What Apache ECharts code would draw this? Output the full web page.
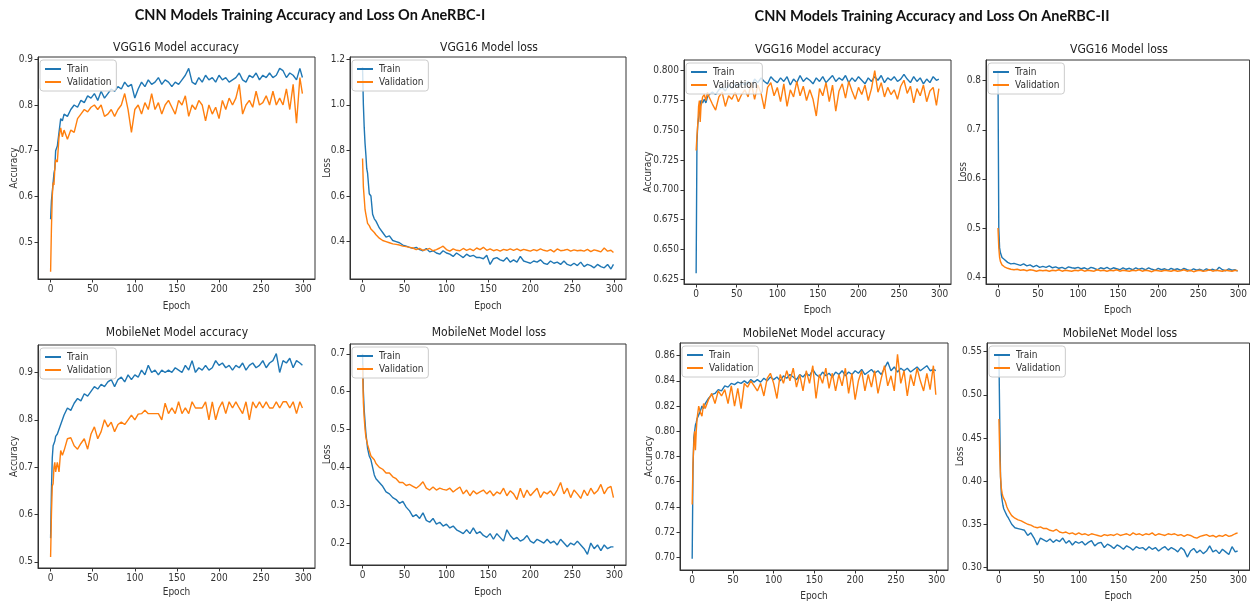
<!DOCTYPE html>
<html>
<head>
<meta charset="utf-8">
<script src="https://cdn.jsdelivr.net/npm/echarts@6/dist/echarts.min.js"></script>
<style>
html,body{margin:0;padding:0;background:#fff;}
#chart{width:1250px;height:602px;}
</style>
</head>
<body>
<div id="chart"></div>
<script>
// ---------------- DATA ----------------
const epochs = [0,1,2,3,4,5,6,8,10,12,14,16,
  20,24,28,32,36,40,44,48,52,56,
  60,64,68,72,76,80,84,88,92,96,
  100,104,108,112,116,120,124,128,132,136,
  140,144,148,152,156,160,164,168,172,176,
  180,184,188,192,196,200,204,208,212,216,
  220,224,228,232,236,240,244,248,252,256,
  260,264,268,272,276,280,284,288,292,296,
  299];
const xTicks = [0,50,100,150,200,250,300];

const mainTitles = ["CNN Models Training Accuracy and Loss On AneRBC-I", "CNN Models Training Accuracy and Loss On AneRBC-II"];
const panelTitles = ["VGG16 Model accuracy","VGG16 Model loss","VGG16 Model accuracy","VGG16 Model loss",
  "MobileNet Model accuracy","MobileNet Model loss","MobileNet Model accuracy","MobileNet Model loss"];
const yNames = ["Accuracy","Loss","Accuracy","Loss","Accuracy","Loss","Accuracy","Loss"];
const seriesNames = ["Train","Validation"];

const yTicks1 = [0.5,0.6,0.7,0.8,0.9];
const yTicks2 = [0.4,0.6,0.8,1.0,1.2];
const yTicks3 = [0.625,0.650,0.675,0.700,0.725,0.750,0.775,0.800];
const yTicks4 = [0.4,0.5,0.6,0.7,0.8];
const yTicks5 = [0.5,0.6,0.7,0.8,0.9];
const yTicks6 = [0.2,0.3,0.4,0.5,0.6,0.7];
const yTicks7 = [0.70,0.72,0.74,0.76,0.78,0.80,0.82,0.84,0.86];
const yTicks8 = [0.30,0.35,0.40,0.45,0.50,0.55];

// AneRBC-I VGG16 accuracy
const vggAccI_train = [0.550,0.590,0.610,0.630,0.650,0.660,0.700,0.710,0.740,0.770,0.765,0.780,
  0.775,0.790,0.800,0.795,0.810,0.805,0.820,0.815,0.825,0.810,
  0.830,0.815,0.825,0.835,0.830,0.840,0.835,0.850,0.840,0.845,
  0.815,0.835,0.850,0.840,0.855,0.845,0.850,0.860,0.845,0.855,
  0.850,0.840,0.850,0.845,0.855,0.865,0.880,0.850,0.845,0.860,
  0.850,0.865,0.855,0.860,0.850,0.865,0.855,0.860,0.850,0.855,
  0.860,0.870,0.855,0.850,0.865,0.860,0.870,0.855,0.865,0.860,
  0.870,0.860,0.865,0.880,0.875,0.860,0.870,0.865,0.855,0.880,
  0.860];
const vggAccI_val = [0.435,0.530,0.600,0.630,0.625,0.660,0.680,0.675,0.730,0.750,0.730,0.745,
  0.725,0.745,0.740,0.770,0.780,0.790,0.785,0.795,0.800,0.790,
  0.800,0.775,0.780,0.790,0.775,0.790,0.800,0.825,0.790,0.740,
  0.790,0.800,0.780,0.805,0.790,0.825,0.790,0.805,0.780,0.800,
  0.810,0.795,0.780,0.810,0.800,0.820,0.775,0.800,0.790,0.810,
  0.800,0.765,0.800,0.780,0.795,0.770,0.810,0.790,0.815,0.800,
  0.815,0.845,0.780,0.800,0.810,0.795,0.830,0.800,0.805,0.820,
  0.800,0.830,0.800,0.815,0.800,0.835,0.790,0.845,0.760,0.860,
  0.825];
// AneRBC-I VGG16 loss
const vggLossI_train = [1.165,1.000,0.900,0.830,0.780,0.720,0.700,0.610,0.600,0.520,0.500,0.490,
  0.460,0.440,0.420,0.425,0.405,0.400,0.395,0.385,0.380,0.375,
  0.370,0.375,0.365,0.360,0.370,0.355,0.360,0.350,0.345,0.360,
  0.350,0.345,0.335,0.350,0.340,0.330,0.345,0.335,0.340,0.330,
  0.330,0.325,0.340,0.300,0.325,0.330,0.320,0.315,0.330,0.310,
  0.320,0.310,0.335,0.315,0.310,0.305,0.315,0.310,0.320,0.305,
  0.300,0.315,0.305,0.310,0.300,0.315,0.300,0.295,0.305,0.295,
  0.310,0.290,0.300,0.295,0.285,0.300,0.290,0.285,0.300,0.280,
  0.300];
const vggLossI_val = [0.765,0.640,0.590,0.540,0.520,0.500,0.480,0.470,0.455,0.450,0.440,0.430,
  0.415,0.405,0.400,0.395,0.390,0.388,0.385,0.380,0.378,0.375,
  0.372,0.365,0.370,0.362,0.365,0.370,0.360,0.365,0.372,0.380,
  0.365,0.358,0.368,0.362,0.360,0.370,0.362,0.368,0.360,0.372,
  0.365,0.375,0.362,0.368,0.360,0.365,0.358,0.366,0.362,0.368,
  0.362,0.368,0.360,0.366,0.362,0.358,0.365,0.360,0.368,0.362,
  0.358,0.365,0.355,0.368,0.360,0.362,0.366,0.358,0.364,0.360,
  0.362,0.358,0.366,0.356,0.364,0.360,0.355,0.372,0.358,0.362,
  0.352];
// AneRBC-II VGG16 accuracy
const vggAccII_train = [0.630,0.740,0.755,0.760,0.765,0.772,0.775,0.773,0.776,0.773,0.778,0.780,
  0.782,0.780,0.784,0.786,0.783,0.788,0.785,0.789,0.787,0.790,
  0.788,0.791,0.786,0.793,0.790,0.794,0.791,0.789,0.795,0.792,
  0.790,0.794,0.791,0.795,0.788,0.793,0.790,0.796,0.791,0.794,
  0.792,0.789,0.794,0.791,0.795,0.790,0.793,0.796,0.791,0.794,
  0.792,0.796,0.790,0.794,0.791,0.795,0.792,0.789,0.794,0.791,
  0.795,0.792,0.796,0.790,0.794,0.792,0.795,0.791,0.793,0.797,
  0.793,0.790,0.795,0.791,0.794,0.789,0.793,0.790,0.795,0.792,
  0.793];
const vggAccII_val = [0.733,0.745,0.755,0.770,0.775,0.757,0.770,0.778,0.780,0.775,0.782,0.778,
  0.772,0.767,0.778,0.782,0.770,0.779,0.776,0.782,0.774,0.780,
  0.784,0.778,0.790,0.776,0.788,0.781,0.768,0.786,0.790,0.779,
  0.786,0.774,0.789,0.770,0.784,0.778,0.791,0.779,0.787,0.775,
  0.784,0.776,0.762,0.785,0.779,0.790,0.774,0.788,0.766,0.783,
  0.789,0.777,0.791,0.783,0.776,0.786,0.780,0.788,0.775,0.785,
  0.800,0.782,0.790,0.778,0.786,0.780,0.784,0.776,0.787,0.792,
  0.781,0.787,0.773,0.785,0.779,0.788,0.774,0.783,0.786,0.771,
  0.785];
// AneRBC-II VGG16 loss
const vggLossII_train = [0.820,0.500,0.460,0.450,0.445,0.440,0.438,0.436,0.434,0.430,0.428,0.427,
  0.428,0.426,0.424,0.427,0.423,0.425,0.421,0.424,0.420,0.422,
  0.420,0.423,0.419,0.421,0.418,0.420,0.417,0.421,0.419,0.418,
  0.420,0.417,0.419,0.416,0.420,0.418,0.415,0.419,0.417,0.420,
  0.416,0.419,0.417,0.415,0.419,0.416,0.418,0.415,0.419,0.416,
  0.418,0.415,0.419,0.416,0.414,0.418,0.415,0.417,0.414,0.418,
  0.415,0.417,0.414,0.418,0.415,0.413,0.417,0.414,0.416,0.413,
  0.417,0.414,0.416,0.413,0.420,0.415,0.413,0.417,0.414,0.415,
  0.412];
const vggLossII_val = [0.500,0.460,0.440,0.432,0.428,0.425,0.423,0.421,0.420,0.418,0.417,0.416,
  0.415,0.416,0.414,0.415,0.413,0.415,0.414,0.412,0.414,0.413,
  0.414,0.412,0.414,0.413,0.415,0.412,0.414,0.413,0.412,0.414,
  0.413,0.415,0.412,0.414,0.413,0.412,0.415,0.413,0.414,0.412,
  0.414,0.413,0.415,0.412,0.414,0.413,0.412,0.414,0.413,0.415,
  0.412,0.414,0.413,0.411,0.414,0.413,0.412,0.414,0.413,0.412,
  0.414,0.412,0.413,0.415,0.412,0.414,0.411,0.413,0.414,0.412,
  0.413,0.415,0.412,0.414,0.413,0.412,0.414,0.413,0.412,0.414,
  0.413];
// AneRBC-I MobileNet accuracy
const mobAccI_train = [0.550,0.650,0.720,0.745,0.750,0.755,0.765,0.770,0.780,0.790,0.800,0.810,
  0.825,0.820,0.835,0.845,0.840,0.855,0.850,0.860,0.870,0.865,
  0.875,0.870,0.880,0.885,0.870,0.885,0.890,0.880,0.895,0.885,
  0.895,0.890,0.905,0.895,0.915,0.900,0.905,0.895,0.905,0.900,
  0.905,0.900,0.910,0.905,0.900,0.915,0.905,0.925,0.900,0.910,
  0.905,0.915,0.905,0.910,0.925,0.915,0.920,0.910,0.915,0.905,
  0.915,0.910,0.920,0.905,0.915,0.920,0.910,0.915,0.925,0.910,
  0.920,0.925,0.940,0.900,0.925,0.920,0.930,0.910,0.925,0.920,
  0.915];
const mobAccI_val = [0.510,0.600,0.660,0.665,0.700,0.710,0.690,0.710,0.690,0.735,0.725,0.735,
  0.760,0.762,0.745,0.738,0.750,0.760,0.738,0.770,0.785,0.760,
  0.775,0.800,0.785,0.795,0.775,0.790,0.795,0.790,0.800,0.810,
  0.800,0.812,0.813,0.820,0.813,0.813,0.813,0.813,0.800,0.835,
  0.813,0.825,0.813,0.838,0.813,0.825,0.813,0.838,0.825,0.825,
  0.825,0.838,0.800,0.838,0.800,0.825,0.838,0.813,0.838,0.825,
  0.838,0.825,0.813,0.838,0.800,0.838,0.825,0.838,0.825,0.838,
  0.825,0.825,0.838,0.825,0.838,0.838,0.825,0.838,0.813,0.838,
  0.825];
// AneRBC-I MobileNet loss
const mobLossI_train = [0.700,0.600,0.550,0.520,0.490,0.470,0.450,0.430,0.420,0.400,0.380,0.370,
  0.360,0.350,0.335,0.330,0.320,0.315,0.305,0.310,0.295,0.285,
  0.270,0.275,0.265,0.280,0.260,0.255,0.265,0.250,0.255,0.245,
  0.250,0.240,0.245,0.235,0.230,0.225,0.235,0.225,0.240,0.225,
  0.230,0.220,0.215,0.225,0.210,0.225,0.215,0.205,0.235,0.220,
  0.210,0.215,0.205,0.210,0.220,0.205,0.200,0.210,0.205,0.200,
  0.210,0.200,0.205,0.195,0.210,0.200,0.190,0.200,0.195,0.205,
  0.195,0.185,0.170,0.200,0.185,0.195,0.180,0.195,0.185,0.190,
  0.190];
const mobLossI_val = [0.670,0.570,0.530,0.500,0.480,0.470,0.460,0.445,0.430,0.425,0.420,0.410,
  0.400,0.395,0.385,0.385,0.375,0.370,0.360,0.360,0.352,0.355,
  0.350,0.345,0.352,0.362,0.345,0.340,0.348,0.340,0.345,0.342,
  0.340,0.345,0.335,0.342,0.348,0.330,0.340,0.325,0.338,0.330,
  0.335,0.340,0.330,0.338,0.325,0.335,0.330,0.345,0.325,0.338,
  0.330,0.315,0.345,0.320,0.340,0.325,0.335,0.345,0.320,0.335,
  0.330,0.338,0.325,0.340,0.360,0.330,0.345,0.320,0.340,0.330,
  0.318,0.340,0.325,0.345,0.330,0.338,0.355,0.330,0.345,0.350,
  0.320];
// AneRBC-II MobileNet accuracy
const mobAccII_train = [0.699,0.770,0.795,0.800,0.805,0.807,0.810,0.813,0.816,0.820,0.818,0.822,
  0.826,0.829,0.830,0.833,0.832,0.836,0.835,0.838,0.837,0.839,
  0.838,0.840,0.838,0.841,0.839,0.841,0.839,0.842,0.840,0.843,
  0.841,0.843,0.840,0.844,0.842,0.845,0.843,0.841,0.845,0.843,
  0.846,0.844,0.849,0.845,0.843,0.847,0.844,0.846,0.843,0.847,
  0.845,0.848,0.844,0.847,0.845,0.848,0.846,0.849,0.845,0.847,
  0.849,0.846,0.848,0.845,0.850,0.855,0.848,0.851,0.847,0.850,
  0.848,0.850,0.847,0.849,0.851,0.848,0.850,0.852,0.848,0.849,
  0.848];
const mobAccII_val = [0.742,0.775,0.790,0.800,0.785,0.800,0.810,0.820,0.815,0.812,0.822,0.818,
  0.825,0.830,0.822,0.832,0.828,0.833,0.822,0.836,0.820,0.834,
  0.818,0.838,0.835,0.840,0.836,0.832,0.838,0.828,0.842,0.846,
  0.838,0.826,0.845,0.838,0.848,0.840,0.850,0.835,0.845,0.832,
  0.848,0.838,0.852,0.826,0.845,0.838,0.850,0.834,0.846,0.832,
  0.845,0.836,0.850,0.830,0.846,0.825,0.840,0.848,0.832,0.845,
  0.835,0.848,0.830,0.842,0.852,0.836,0.844,0.832,0.861,0.838,
  0.848,0.828,0.845,0.836,0.850,0.840,0.832,0.846,0.833,0.852,
  0.829];
// AneRBC-II MobileNet loss
const mobLossII_train = [0.545,0.470,0.405,0.385,0.378,0.372,0.368,0.364,0.360,0.357,0.355,0.350,
  0.346,0.345,0.344,0.343,0.337,0.340,0.334,0.326,0.334,0.332,
  0.330,0.333,0.329,0.332,0.330,0.334,0.328,0.331,0.326,0.330,
  0.328,0.330,0.326,0.329,0.331,0.325,0.328,0.329,0.323,0.327,
  0.325,0.322,0.326,0.324,0.321,0.325,0.323,0.320,0.324,0.322,
  0.323,0.320,0.324,0.321,0.323,0.319,0.322,0.324,0.320,0.323,
  0.321,0.318,0.323,0.320,0.312,0.319,0.322,0.317,0.320,0.316,
  0.319,0.325,0.318,0.320,0.316,0.321,0.318,0.315,0.324,0.318,
  0.319];
const mobLossII_val = [0.472,0.430,0.405,0.392,0.386,0.382,0.380,0.376,0.370,0.366,0.363,0.360,
  0.357,0.355,0.354,0.352,0.350,0.349,0.347,0.346,0.347,0.345,
  0.345,0.343,0.342,0.344,0.341,0.340,0.341,0.339,0.340,0.338,
  0.340,0.338,0.339,0.337,0.339,0.338,0.337,0.336,0.338,0.337,
  0.338,0.337,0.339,0.337,0.338,0.339,0.337,0.340,0.338,0.339,
  0.337,0.339,0.338,0.340,0.337,0.339,0.338,0.337,0.339,0.338,
  0.339,0.337,0.338,0.336,0.338,0.337,0.335,0.334,0.336,0.337,
  0.338,0.336,0.337,0.335,0.337,0.336,0.338,0.336,0.337,0.339,
  0.340];

// ---------------- LAYOUT / STYLE ----------------
const FONT = "'Liberation Sans Narrow','DejaVu Sans Condensed','Liberation Sans',sans-serif";
const TXT = '#333';
const BLUE = '#1f77b4', ORANGE = '#ff7f0e';

const panels = [
  {g:[38,57,277,222],  y:[0.419,0.905], ticks:yTicks1, dec:1, t:[176,48],  yGap:19, xGap:22, d:[vggAccI_train, vggAccI_val]},
  {g:[350,57,276,222], y:[0.236,1.21],  ticks:yTicks2, dec:1, t:[489,48],  yGap:18, xGap:22, d:[vggLossI_train, vggLossI_val]},
  {g:[684,60,267,224], y:[0.621,0.809], ticks:yTicks3, dec:3, t:[818,50],  yGap:31, xGap:21, d:[vggAccII_train, vggAccII_val]},
  {g:[986,60,267,224], y:[0.386,0.842], ticks:yTicks4, dec:1, t:[1119,50], yGap:18, xGap:21, d:[vggLossII_train, vggLossII_val]},
  {g:[38,345,277,223], y:[0.487,0.958], ticks:yTicks5, dec:1, t:[177,333], yGap:19, xGap:19, d:[mobAccI_train, mobAccI_val]},
  {g:[350,344,276,221],y:[0.142,0.726], ticks:yTicks6, dec:1, t:[489,333], yGap:18, xGap:22, d:[mobLossI_train, mobLossI_val]},
  {g:[680,343,268,228],y:[0.690,0.870], ticks:yTicks7, dec:2, t:[814,334], yGap:26, xGap:21, d:[mobAccII_train, mobAccII_val]},
  {g:[987,343,267,227],y:[0.297,0.560], ticks:yTicks8, dec:2, t:[1120,334],yGap:22, xGap:21, d:[mobLossII_train, mobLossII_val]}
];

const grid = [], xAxis = [], yAxis = [], series = [], legend = [], graphic = [];

graphic.push({type:'text', x:310, y:15, style:{text:mainTitles[0], font:"bold 14.5px Lato, 'Open Sans', sans-serif", fill:'#111', align:'center', verticalAlign:'middle'}});
graphic.push({type:'text', x:932, y:16, style:{text:mainTitles[1], font:"bold 14.5px Lato, 'Open Sans', sans-serif", fill:'#111', align:'center', verticalAlign:'middle'}});

panels.forEach((p, i) => {
  grid.push({left:p.g[0], top:p.g[1], width:p.g[2], height:p.g[3], show:true, borderColor:'#333', borderWidth:1, backgroundColor:'#fff', containLabel:false});
  xAxis.push({
    type:'value', gridIndex:i, min:-14.95, max:313.95,
    name:'Epoch', nameLocation:'middle', nameGap:p.xGap,
    nameTextStyle:{fontFamily:FONT, fontSize:10, color:TXT},
    axisLine:{show:true, onZero:false, lineStyle:{color:'#333', width:1}},
    axisTick:{show:true, length:3.5, customValues:xTicks, lineStyle:{color:'#333'}},
    axisLabel:{customValues:xTicks, fontFamily:FONT, fontSize:10, color:TXT, margin:5, formatter:v=>String(Math.round(v))},
    splitLine:{show:false}
  });
  yAxis.push({
    type:'value', gridIndex:i, min:p.y[0], max:p.y[1],
    name:yNames[i], nameLocation:'middle', nameGap:p.yGap, nameRotate:90, nameMoveOverlap:false,
    nameTextStyle:{fontFamily:FONT, fontSize:10, color:TXT},
    axisLine:{show:true, onZero:false, lineStyle:{color:'#333', width:1}},
    axisTick:{show:true, length:3.5, customValues:p.ticks, lineStyle:{color:'#333'}},
    axisLabel:{customValues:p.ticks, fontFamily:FONT, fontSize:10, color:TXT, margin:5, formatter:(v)=>Number(v).toFixed(p.dec)},
    splitLine:{show:false}
  });
  [0,1].forEach(k => {
    series.push({
      type:'line', name:seriesNames[k], xAxisIndex:i, yAxisIndex:i,
      data: epochs.map((e, j) => [e, p.d[k][j]]),
      symbol:'none', showSymbol:false, silent:true,
      lineStyle:{width:1.4, color: k===0 ? BLUE : ORANGE},
      itemStyle:{color: k===0 ? BLUE : ORANGE},
      z: k===0 ? 2 : 3
    });
  });
  legend.push({
    data:seriesNames, orient:'vertical', left:p.g[0]+2, top:p.g[1]+3,
    padding:[4,5,4,5], itemGap:3, itemWidth:16, itemHeight:2, icon:'rect',
    backgroundColor:'rgba(255,255,255,0.8)', borderColor:'#cccccc', borderWidth:1, borderRadius:3,
    textStyle:{fontFamily:FONT, fontSize:10, color:TXT, padding:[0,0,0,1]},
    selectedMode:false
  });
  graphic.push({type:'text', x:p.t[0], y:p.t[1], style:{text:panelTitles[i], font:"12px " + FONT, fill:'#222', align:'center', verticalAlign:'middle'}});
});

const chart = echarts.init(document.getElementById('chart'), null, {renderer:'canvas'});
chart.setOption({
  animation:false,
  backgroundColor:'#fff',
  grid, xAxis, yAxis, series, legend, graphic
});
</script>
</body>
</html>
